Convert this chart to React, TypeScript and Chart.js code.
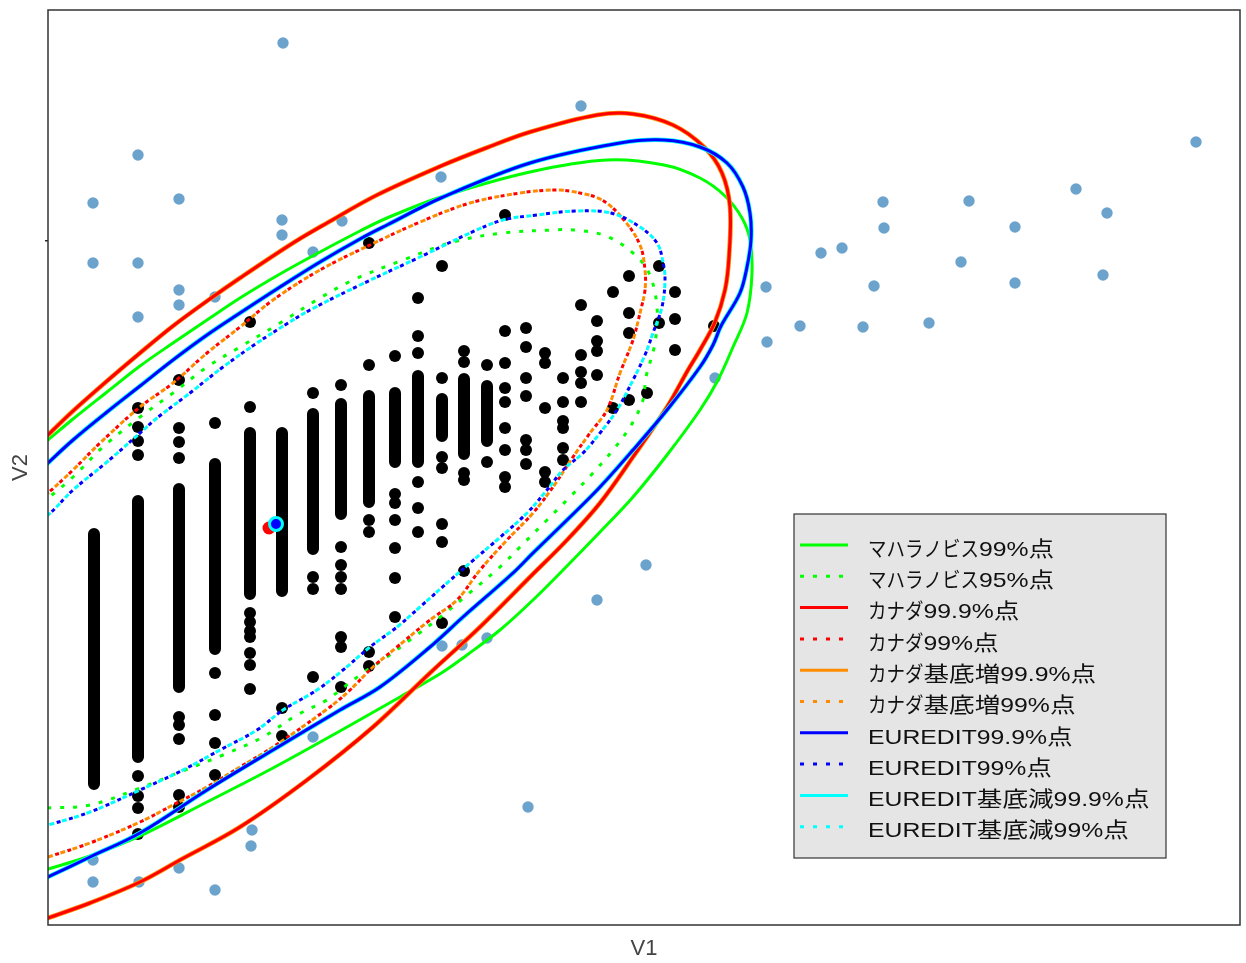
import React, { useEffect, useRef } from 'react';
import { Chart, registerables } from 'chart.js';

Chart.register(...registerables);

const W = 1246;
const H = 963;

// Axis ranges (arbitrary units, no tick labels in the original)
const X_MIN = 0.48;
const X_MAX = 12.4;
const Y_MIN = 0.75;
const Y_MAX = 9.9;
const Y_TICK = 7.59;

type P = [number, number];

// Light blue points (outside all limits)
const outlierPoints: P[] = [
  [2.83, 9.57], [5.81, 8.94], [1.38, 8.45], [4.41, 8.23], [0.93, 7.97], [1.79, 8.01],
  [2.82, 7.8], [2.82, 7.65], [3.42, 7.79], [3.13, 7.48], [0.93, 7.37], [1.38, 7.37],
  [1.79, 7.1], [1.79, 6.95], [2.15, 7.03], [1.38, 6.83], [11.96, 8.58], [10.76, 8.11],
  [11.07, 7.87], [8.83, 7.98], [8.84, 7.72], [9.69, 7.99], [10.15, 7.73], [8.21, 7.47],
  [8.42, 7.52], [9.61, 7.38], [11.03, 7.25], [7.66, 7.13], [8.74, 7.14], [10.15, 7.17],
  [8.0, 6.74], [8.63, 6.73], [9.29, 6.77], [7.67, 6.58], [7.15, 6.22], [6.46, 4.35],
  [5.97, 4.0], [4.42, 3.54], [4.62, 3.55], [4.87, 3.62], [5.28, 1.93], [2.52, 1.7],
  [2.51, 1.54], [0.93, 1.18], [1.39, 1.18], [1.79, 1.32], [2.15, 1.1], [0.93, 1.4],
  [3.13, 2.63],
];

// Dense runs of black points: [x, yTop, yBottom]
const blackRuns: [number, number, number][] = [
  [0.94, 4.66, 2.16], [1.38, 4.99, 2.43], [1.79, 5.11, 3.13], [2.15, 5.36, 3.51],
  [2.5, 5.67, 4.06], [2.82, 5.67, 4.09], [3.13, 5.86, 4.51], [3.41, 5.96, 4.86],
  [3.69, 6.04, 4.98], [3.95, 6.07, 5.38], [4.18, 6.24, 5.38], [4.42, 6.01, 5.64],
  [4.64, 6.21, 5.46], [4.87, 6.14, 5.59],
];

// Isolated black points per column: [x, [y...]]
const blackColumns: [number, number[]][] = [
  [1.38, [5.92, 5.73, 5.59, 5.45, 2.24, 2.04, 1.92, 1.66]],
  [1.79, [6.2, 5.72, 5.58, 5.42, 2.83, 2.75, 2.61, 2.05, 1.93]],
  [2.15, [5.77, 3.27, 2.85, 2.57, 2.25]],
  [2.5, [6.78, 5.93, 3.87, 3.78, 3.69, 3.63, 3.47, 3.35, 3.11]],
  [2.82, [2.92, 2.64]],
  [3.13, [6.07, 4.23, 4.11, 3.23]],
  [3.41, [6.15, 4.53, 4.35, 4.23, 4.11, 3.63, 3.53, 3.13]],
  [3.69, [7.57, 6.35, 4.8, 4.68, 3.48, 3.34]],
  [3.95, [6.44, 5.06, 4.97, 4.8, 4.52, 4.22, 3.83]],
  [4.18, [7.02, 6.64, 6.47, 5.18, 4.92, 4.68]],
  [4.42, [7.34, 6.22, 5.43, 5.32, 4.76, 4.58, 3.77]],
  [4.64, [6.49, 6.38, 5.27, 5.2, 4.29]],
  [4.87, [6.35, 5.38]],
  [5.05, [7.85, 6.69, 6.37, 6.12, 5.98, 5.72, 5.5, 5.23, 5.13]],
  [5.26, [6.72, 6.53, 6.22, 6.04, 5.6, 5.5, 5.36]],
  [5.45, [6.47, 6.37, 5.92, 5.28, 5.18]],
  [5.63, [6.22, 5.98, 5.79, 5.72, 5.52, 5.4]],
  [5.81, [6.95, 6.45, 6.28, 6.17, 5.98]],
  [5.97, [6.79, 6.59, 6.49, 6.25]],
  [6.13, [7.08, 5.92]],
  [6.29, [7.24, 6.87, 6.67, 6.0]],
  [6.47, [6.07]],
  [6.59, [7.34, 6.77]],
  [6.75, [7.08, 6.81, 6.5]],
  [7.14, [6.74]],
];

// Highlighted points
const redPoint: P = [2.69, 4.72];
const bluePoint: P = [2.76, 4.76];

// Limit curves
const mahal99: P[] = [
  [0.3, 5.45], [0.48, 5.6], [0.73, 5.81], [1.07, 6.08], [1.4, 6.34], [1.73, 6.57], [2.07, 6.8],
  [2.4, 7.02], [2.8, 7.26], [3.2, 7.48], [3.6, 7.69], [3.87, 7.82], [4.41, 8.03], [5.3, 8.28],
  [6.07, 8.4], [6.64, 8.35], [7.0, 8.22], [7.25, 8.04], [7.42, 7.82], [7.5, 7.6], [7.52, 7.27],
  [7.47, 6.87], [7.33, 6.53], [7.18, 6.2], [7.0, 5.9], [6.67, 5.45], [6.33, 5.03], [6.0, 4.68],
  [5.67, 4.34], [5.33, 4.0], [5.0, 3.7], [4.67, 3.45], [4.43, 3.28], [4.0, 3.03], [3.63, 2.82],
  [3.4, 2.69], [2.73, 2.32], [2.07, 1.98], [1.4, 1.64], [0.9, 1.44], [0.48, 1.31], [0.2, 1.23],
];
const mahal95: P[] = [
  [0.3, 4.9], [0.48, 5.02], [0.73, 5.23], [1.03, 5.53], [1.4, 5.83], [1.73, 6.07], [2.07, 6.33],
  [2.4, 6.53], [2.8, 6.77], [3.2, 7.02], [3.53, 7.2], [4.03, 7.4], [4.53, 7.58], [5.03, 7.67],
  [5.53, 7.7], [5.75, 7.7], [6.06, 7.64], [6.33, 7.47], [6.49, 7.27], [6.57, 6.93], [6.55, 6.57],
  [6.46, 6.23], [6.43, 6.0], [6.3, 5.73], [6.13, 5.5], [5.93, 5.27], [5.67, 5.0], [5.47, 4.8],
  [5.2, 4.53], [5.0, 4.33], [4.67, 4.05], [4.43, 3.85], [4.1, 3.6], [3.87, 3.43], [3.63, 3.27],
  [3.4, 3.1], [3.27, 3.0], [2.97, 2.85], [2.63, 2.63], [2.23, 2.45], [1.8, 2.28], [1.4, 2.12],
  [0.9, 1.95], [0.48, 1.92], [0.2, 1.91],
];
const canada999: P[] = [
  [0.3, 5.47], [0.48, 5.65], [0.73, 5.89], [1.07, 6.19], [1.4, 6.47], [1.73, 6.74], [2.07, 6.99],
  [2.4, 7.22], [2.93, 7.57], [3.27, 7.77], [3.77, 8.05], [4.41, 8.34], [4.86, 8.52],
  [5.3, 8.68], [5.97, 8.85], [6.33, 8.86], [6.73, 8.75], [7.04, 8.53], [7.22, 8.27], [7.3, 7.93],
  [7.29, 7.43], [7.25, 7.1], [7.15, 6.78], [7.0, 6.5], [6.88, 6.3], [6.67, 5.93], [6.33, 5.43],
  [6.0, 4.97], [5.67, 4.6], [5.3, 4.23], [4.8, 3.73], [4.3, 3.27], [3.73, 2.73], [3.07, 2.2],
  [2.4, 1.73], [1.8, 1.4], [1.4, 1.18], [0.9, 0.97], [0.48, 0.82], [0.2, 0.72],
];
const canada99: P[] = [
  [0.3, 4.92], [0.48, 5.07], [0.73, 5.3], [1.0, 5.57], [1.4, 5.93], [1.73, 6.17], [2.07, 6.47],
  [2.4, 6.73], [2.73, 7.0], [3.2, 7.3], [3.7, 7.55], [4.2, 7.78], [4.7, 7.97], [5.2, 8.07],
  [5.53, 8.1], [5.75, 8.08], [6.02, 8.0], [6.24, 7.8], [6.4, 7.55], [6.45, 7.3], [6.45, 7.1],
  [6.4, 6.87], [6.33, 6.6], [6.2, 6.27], [6.07, 5.9], [5.9, 5.67], [5.73, 5.43], [5.53, 5.13],
  [5.33, 4.87], [5.07, 4.6], [4.8, 4.3], [4.57, 4.0], [4.3, 3.8], [3.97, 3.53], [3.73, 3.33],
  [3.5, 3.1], [3.3, 2.93], [2.73, 2.53], [2.4, 2.33], [2.07, 2.13], [1.73, 1.95], [1.4, 1.78],
  [0.9, 1.57], [0.48, 1.43], [0.2, 1.34],
];
const canadaBase999: P[] = canada999;
const canadaBase99: P[] = canada99;
const euredit999: P[] = [
  [0.3, 5.2], [0.48, 5.37], [0.73, 5.6], [1.07, 5.88], [1.4, 6.14], [1.73, 6.4], [2.07, 6.65],
  [2.4, 6.87], [2.8, 7.13], [3.2, 7.38], [3.6, 7.61], [3.87, 7.75], [4.41, 8.02], [5.3, 8.37],
  [6.2, 8.57], [6.64, 8.6], [7.0, 8.53], [7.27, 8.37], [7.43, 8.13], [7.5, 7.87], [7.51, 7.6],
  [7.47, 7.33], [7.4, 7.07], [7.21, 6.74], [7.13, 6.55], [7.0, 6.33], [6.67, 5.9], [6.33, 5.5],
  [6.0, 5.13], [5.67, 4.8], [5.33, 4.47], [5.13, 4.27], [4.63, 3.83], [4.3, 3.53], [3.8, 3.13],
  [3.4, 2.9], [2.73, 2.5], [2.07, 2.1], [1.4, 1.67], [0.9, 1.43], [0.48, 1.23], [0.2, 1.1],
];
const euredit99: P[] = [
  [0.3, 4.74], [0.48, 4.85], [0.73, 5.1], [1.07, 5.38], [1.4, 5.67], [1.57, 5.82], [1.9, 6.07],
  [2.23, 6.33], [2.57, 6.57], [2.85, 6.75], [3.1, 6.9], [3.6, 7.15], [4.2, 7.43], [4.7, 7.67],
  [5.03, 7.8], [5.37, 7.85], [5.75, 7.89], [6.11, 7.87], [6.4, 7.73], [6.57, 7.57], [6.63, 7.38],
  [6.65, 7.2], [6.62, 6.93], [6.53, 6.67], [6.45, 6.45], [6.33, 6.2], [6.17, 5.9], [6.0, 5.67],
  [5.83, 5.47], [5.63, 5.3], [5.47, 5.1], [5.27, 4.87], [4.97, 4.6], [4.7, 4.37], [4.47, 4.17],
  [4.2, 3.93], [3.97, 3.73], [3.7, 3.53], [3.43, 3.3], [3.17, 3.1], [2.83, 2.9], [2.57, 2.7],
  [2.2, 2.5], [1.83, 2.3], [1.4, 2.1], [0.9, 1.88], [0.48, 1.75], [0.2, 1.68],
];
const eureditBase999: P[] = euredit999;
const eureditBase99: P[] = euredit99;

// Legend (in legend order)
const legendLabels = [
  'マハラノビス99%点', 'マハラノビス95%点', 'カナダ99.9%点', 'カナダ99%点',
  'カナダ基底増99.9%点', 'カナダ基底増99%点', 'EUREDIT99.9%点', 'EUREDIT99%点',
  'EUREDIT基底減99.9%点', 'EUREDIT基底減99%点',
];
const legendColors = [
  '#00ff00', '#00ff00', '#ff0000', '#ff0000', '#ff8c00', '#ff8c00',
  '#0000ff', '#0000ff', '#00ffff', '#00ffff',
];
const legendDotted = [false, true, false, true, false, true, false, true, false, true];
const curveData: P[][] = [
  mahal99, mahal95, canada999, canada99, canadaBase999, canadaBase99,
  euredit999, euredit99, eureditBase999, eureditBase99,
];
// drawing order (first = bottom)
const drawOrder = [1, 5, 3, 9, 7, 0, 4, 2, 8, 6];

const LIGHT_BLUE = '#6ca3cd';
const toXY = (arr: P[]) => arr.map(([x, y]) => ({ x, y }));

const RUN_SCALE: Record<string, number> = { kana: 0.88, kanji: 1.22, latin: 1.18 };
function kindOf(ch: string) {
  const c = ch.codePointAt(0) || 0;
  if (c >= 0x3040 && c <= 0x30ff) return 'kana';
  if (c >= 0x4e00 && c <= 0x9fff) return 'kanji';
  return 'latin';
}
function drawStretchedText(ctx: CanvasRenderingContext2D, text: string, x: number, y: number) {
  const runs: { kind: string; text: string }[] = [];
  for (const ch of Array.from(text)) {
    const k = kindOf(ch);
    const last = runs[runs.length - 1];
    if (last && last.kind === k) last.text += ch;
    else runs.push({ kind: k, text: ch });
  }
  let cx = x;
  for (const r of runs) {
    const s = RUN_SCALE[r.kind];
    const w = ctx.measureText(r.text).width;
    ctx.save();
    ctx.translate(cx, y);
    ctx.scale(s, 1);
    ctx.fillText(r.text, 0, 0);
    ctx.restore();
    cx += w * s;
  }
}

const frameLegendPlugin = {
  id: 'frameLegend',
  afterDraw(chart: any) {
    const { ctx, chartArea } = chart;
    const { left, top, right, bottom } = chartArea;
    ctx.save();
    ctx.strokeStyle = '#333333';
    ctx.lineWidth = 1.5;
    ctx.strokeRect(left, top, right - left, bottom - top);

    // legend box
    const bx0 = right - 446;
    const bx1 = right - 74;
    const by0 = bottom - 411;
    const by1 = bottom - 67;
    ctx.fillStyle = '#e5e5e5';
    ctx.fillRect(bx0, by0, bx1 - bx0, by1 - by0);
    ctx.strokeStyle = '#333333';
    ctx.lineWidth = 1.2;
    ctx.strokeRect(bx0, by0, bx1 - bx0, by1 - by0);

    ctx.font = "21px 'Liberation Sans', 'Noto Sans CJK JP', sans-serif";
    ctx.textBaseline = 'middle';
    ctx.textAlign = 'left';
    legendLabels.forEach((label, i) => {
      const yy = by0 + 31 + i * 31.3;
      ctx.save();
      ctx.strokeStyle = legendColors[i];
      ctx.lineWidth = 3;
      ctx.setLineDash(legendDotted[i] ? [4, 9] : []);
      ctx.beginPath();
      ctx.moveTo(bx0 + 6, yy);
      ctx.lineTo(bx0 + 54, yy);
      ctx.stroke();
      ctx.restore();
      ctx.fillStyle = '#111111';
      drawStretchedText(ctx, label, bx0 + 74, yy + 5);
    });
    ctx.restore();
  },
};

export default function App() {
  const ref = useRef<HTMLCanvasElement>(null);

  useEffect(() => {
    const canvas = ref.current;
    if (!canvas) return;
    const datasets: any[] = [];
    let ord = 1000;
    const push = (ds: any) => {
      datasets.push({ ...ds, order: ord-- });
    };

    push({
      type: 'scatter',
      data: toXY(outlierPoints),
      pointRadius: 5.7,
      pointBackgroundColor: LIGHT_BLUE,
      pointBorderWidth: 0,
    });
    blackRuns.forEach(([x, y0, y1]) =>
      push({
        type: 'line',
        data: [{ x, y: y0 }, { x, y: y1 }],
        borderColor: '#000000',
        borderWidth: 12,
        borderCapStyle: 'round',
        pointRadius: 0,
        tension: 0,
        fill: false,
      })
    );
    const blackPts: P[] = [];
    blackColumns.forEach(([x, ys]) => ys.forEach((y) => blackPts.push([x, y])));
    push({
      type: 'scatter',
      data: toXY(blackPts),
      pointRadius: 6,
      pointBackgroundColor: '#000000',
      pointBorderWidth: 0,
    });
    push({
      type: 'scatter',
      data: toXY([redPoint]),
      pointRadius: 6.5,
      pointBackgroundColor: '#ff0000',
      pointBorderWidth: 0,
    });
    push({
      type: 'scatter',
      data: toXY([bluePoint]),
      pointRadius: 6.5,
      pointBackgroundColor: '#0000ff',
      pointBorderColor: '#00ffff',
      pointBorderWidth: 3,
    });

    drawOrder.forEach((i) => {
      const color = legendColors[i];
      const dotted = legendDotted[i];
      const under = i === 4 || i === 8; // orange / cyan solid lie under red / blue
      const isBase = i === 5 || i === 9;
      push({
        type: 'line',
        label: legendLabels[i],
        data: toXY(curveData[i]),
        borderColor: color,
        borderWidth: under ? 4.6 : 3,
        borderDash: dotted ? (isBase ? [5, 8] : [4, 9]) : [],
        borderDashOffset: dotted && isBase ? 6.5 : 0,
        pointRadius: 0,
        tension: 0.35,
        fill: false,
      });
    });

    const chart = new Chart(canvas, {
      type: 'scatter',
      data: { datasets },
      options: {
        animation: false,
        responsive: false,
        devicePixelRatio: 1,
        events: [],
        layout: { autoPadding: false, padding: { top: 10, right: 6, bottom: 0, left: 0 } },
        elements: { line: { capBezierPoints: false } },
        plugins: {
          legend: { display: false },
          tooltip: { enabled: false },
        },
        scales: {
          x: {
            type: 'linear',
            position: 'bottom',
            min: X_MIN,
            max: X_MAX,
            afterBuildTicks: (s: any) => {
              s.ticks = [];
            },
            afterFit: (s: any) => {
              s.height = 38;
              s.paddingLeft = 0;
              s.paddingRight = 0;
            },
            ticks: { display: false },
            grid: { display: false },
            border: { display: false },
            title: {
              display: true,
              text: 'V1',
              color: '#444444',
              font: { family: "'Liberation Sans', Arial, sans-serif", size: 22 },
              padding: { top: 0, bottom: 1 },
            },
          },
          y: {
            type: 'linear',
            position: 'left',
            min: Y_MIN,
            max: Y_MAX,
            afterBuildTicks: (s: any) => {
              s.ticks = [{ value: Y_TICK }];
            },
            afterFit: (s: any) => {
              s.width = 48;
              s.paddingTop = 0;
              s.paddingBottom = 0;
            },
            ticks: { display: true, callback: () => '', padding: 0 },
            grid: {
              display: true,
              drawOnChartArea: false,
              drawTicks: true,
              tickLength: 3,
              color: '#222222',
              lineWidth: 1.5,
            },
            border: { display: false },
            title: {
              display: true,
              text: 'V2',
              color: '#444444',
              font: { family: "'Liberation Sans', Arial, sans-serif", size: 22 },
              padding: { top: 8, bottom: 0 },
            },
          },
        },
      } as any,
      plugins: [frameLegendPlugin],
    });
    return () => chart.destroy();
  }, []);

  return (
    <div style={{ position: 'fixed', left: 0, top: 0, width: W, height: H, background: '#ffffff' }}>
      <canvas ref={ref} width={W} height={H} style={{ display: 'block', width: W, height: H }} />
    </div>
  );
}
